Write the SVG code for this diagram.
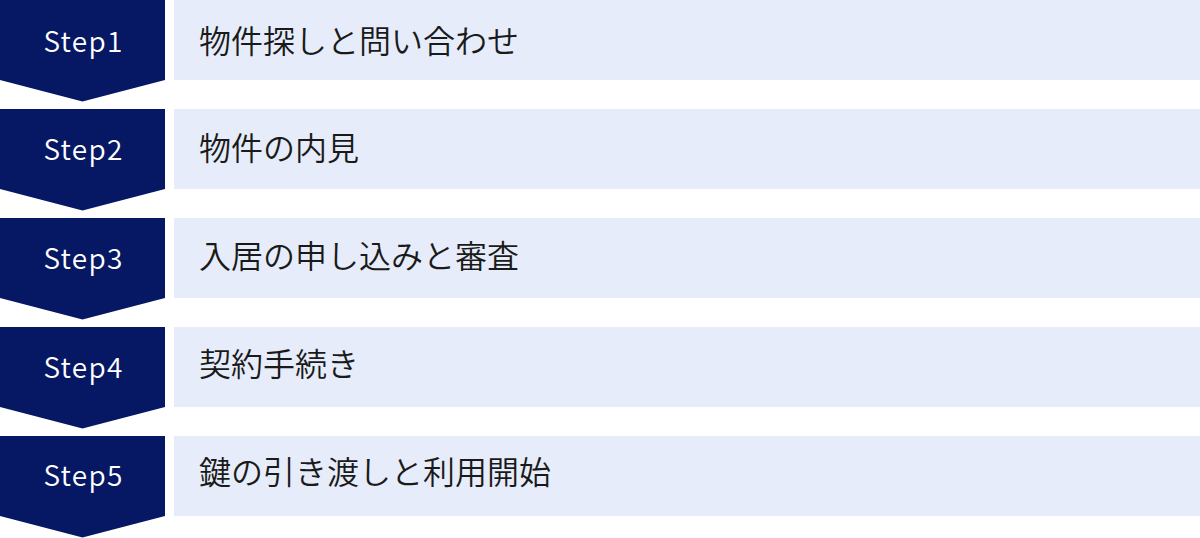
<svg xmlns="http://www.w3.org/2000/svg" width="1200" height="538" viewBox="0 0 1200 538">
<style>
.step{fill:#061863}
.bar{fill:#e6ecf9}
.st{font-family:"Noto Sans CJK JP","Noto Sans",sans-serif;font-size:28px;font-weight:350;fill:#ffffff;text-anchor:middle;letter-spacing:1.3px}
.lb{font-family:"Noto Sans CJK JP",sans-serif;font-size:32px;font-weight:350;fill:#1a1a1a}
</style>
<defs>
<polygon id="chev" points="0,0 165,0 165,80 82.5,101.5 0,80"/>
</defs>
<g id="step1" transform="translate(0,0)">
<use href="#chev" class="step"/>
<rect class="bar" x="174" y="0" width="1026" height="80"/>
<text class="st" x="83.5" y="51.5">Step1</text>
<text class="lb" x="199" y="52.5">物件探しと問い合わせ</text>
</g>
<g id="step2" transform="translate(0,109)">
<use href="#chev" class="step"/>
<rect class="bar" x="174" y="0" width="1026" height="80"/>
<text class="st" x="83.5" y="51.2">Step2</text>
<text class="lb" x="199" y="51.3">物件の内見</text>
</g>
<g id="step3" transform="translate(0,218)">
<use href="#chev" class="step"/>
<rect class="bar" x="174" y="0" width="1026" height="80"/>
<text class="st" x="83.5" y="50.9">Step3</text>
<text class="lb" x="199" y="50">入居の申し込みと審査</text>
</g>
<g id="step4" transform="translate(0,327)">
<use href="#chev" class="step"/>
<rect class="bar" x="174" y="0" width="1026" height="80"/>
<text class="st" x="83.5" y="50.6">Step4</text>
<text class="lb" x="199" y="48.7">契約手続き</text>
</g>
<g id="step5" transform="translate(0,436)">
<use href="#chev" class="step"/>
<rect class="bar" x="174" y="0" width="1026" height="80"/>
<text class="st" x="83.5" y="50.3">Step5</text>
<text class="lb" x="199" y="47.5">鍵の引き渡しと利用開始</text>
</g>
<g id="connectors"></g>
</svg>
